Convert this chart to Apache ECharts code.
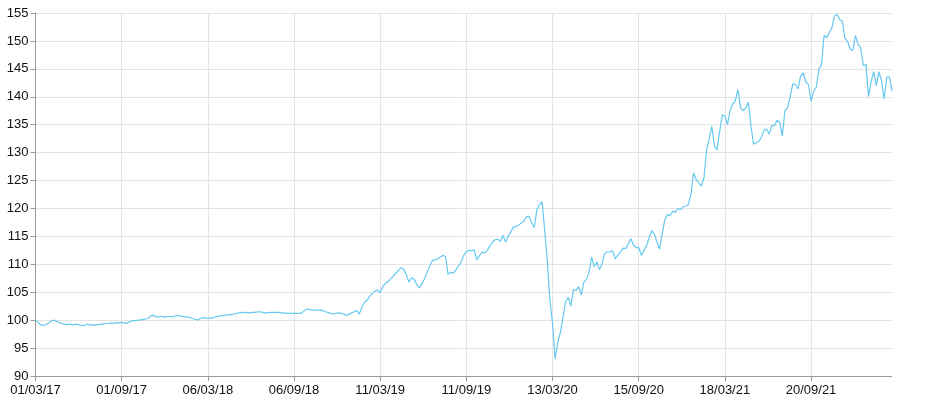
<!DOCTYPE html>
<html>
<head>
<meta charset="utf-8">
<script src="https://cdn.jsdelivr.net/npm/echarts@6/dist/echarts.min.js"></script>
<style>
  html, body { margin: 0; padding: 0; background: #fff; }
  #chart { width: 931px; height: 412px; }
</style>
</head>
<body>
<div id="chart"></div>
<script>
// Sampling: one point every 4 weekdays starting 01/03/2017
const startDate = '2017-03-01';
const weekdaysPerPoint = 4;
const labelEvery = 33; // one tick label every 33 points (132 weekdays)

const indexValues = [
  100.0, 99.6, 99.1, 99.1, 99.2, 99.5, 99.8, 100.0, 99.8, 99.6,
  99.4, 99.3, 99.2, 99.3, 99.2, 99.2, 99.3, 99.1, 99.0, 99.1,
  99.3, 99.1, 99.2, 99.1, 99.2, 99.3, 99.3, 99.4, 99.4, 99.5,
  99.4, 99.6, 99.5, 99.6, 99.5, 99.4, 99.7, 99.9, 99.9, 100.0,
  100.0, 100.1, 100.2, 100.3, 100.7, 100.9, 100.6, 100.6, 100.7, 100.6,
  100.6, 100.7, 100.6, 100.7, 100.8, 100.8, 100.7, 100.6, 100.6, 100.5,
  100.3, 100.2, 100.0, 100.3, 100.4, 100.4, 100.3, 100.4, 100.4, 100.6,
  100.7, 100.8, 100.8, 100.9, 101.0, 101.0, 101.1, 101.2, 101.3, 101.4,
  101.4, 101.3, 101.3, 101.4, 101.4, 101.5, 101.5, 101.4, 101.3, 101.3,
  101.4, 101.4, 101.4, 101.4, 101.3, 101.3, 101.2, 101.2, 101.2, 101.2,
  101.2, 101.2, 101.3, 101.7, 102.0, 101.9, 101.8, 101.8, 101.8, 101.8,
  101.7, 101.5, 101.4, 101.2, 101.1, 101.2, 101.3, 101.2, 101.1, 100.9,
  101.0, 101.3, 101.5, 101.7, 101.1, 102.3, 103.2, 103.6, 104.3, 104.8,
  105.2, 105.4, 104.9, 106.0, 106.6, 106.9, 107.4, 107.9, 108.4, 108.9,
  109.4, 109.1, 108.2, 106.8, 107.6, 107.3, 106.4, 105.8, 106.5, 107.4,
  108.6, 109.7, 110.7, 110.8, 111.0, 111.3, 111.6, 111.4, 108.2, 108.6,
  108.4, 109.0, 109.7, 110.4, 111.6, 112.3, 112.5, 112.4, 112.6, 110.8,
  111.5, 112.2, 112.0, 112.5, 113.3, 114.0, 114.4, 114.5, 114.1, 115.2,
  114.0, 115.0, 115.8, 116.7, 116.8, 117.0, 117.4, 117.7, 118.5, 118.6,
  117.4, 116.6, 119.8, 120.7, 121.2, 116.0, 110.5, 103.5, 99.5, 93.0,
  96.0, 97.8, 100.5, 103.3, 104.1, 102.5, 105.5, 105.3, 106.0, 104.5,
  106.8, 107.3, 108.6, 111.3, 109.6, 110.4, 109.0, 110.2, 111.9, 112.2,
  112.2, 112.4, 111.0, 111.6, 112.2, 112.9, 112.8, 113.6, 114.6, 113.4,
  113.0, 113.0, 111.6, 112.5, 113.3, 114.8, 116.0, 115.4, 114.0, 112.7,
  115.5, 118.0, 118.9, 118.7, 119.5, 119.3, 120.0, 119.8, 120.3, 120.4,
  120.7, 122.5, 126.4, 125.2, 124.6, 124.0, 125.5, 130.5, 132.5, 134.7,
  131.2, 130.5, 133.8, 136.7, 136.6, 135.0, 137.5, 138.7, 139.3, 141.3,
  138.0, 137.5, 138.0, 139.0, 134.7, 131.5, 131.8, 132.0, 132.8, 134.0,
  134.2, 133.3, 134.9, 134.8, 135.8, 135.4, 133.0, 137.5, 138.0, 140.0,
  142.3, 142.2, 141.4, 143.7, 144.3, 142.6, 142.2, 139.2, 141.0, 141.7,
  145.0, 145.8, 151.0, 150.6, 151.5, 152.4, 154.5, 154.7, 153.8, 153.5,
  150.4, 149.9, 148.5, 148.3, 151.0, 149.4, 148.8, 145.6, 145.8, 140.0,
  142.7, 144.5, 142.0, 144.5, 142.8, 139.6, 143.5, 143.5, 141.0
];

const yMin = 90, yMax = 155, yStep = 5;

function pad(n) { return (n < 10 ? '0' : '') + n; }
function buildCategories(start, count, step) {
  const out = [];
  const d = new Date(start + 'T12:00:00Z');
  for (let i = 0; i < count; i++) {
    out.push(pad(d.getUTCDate()) + '/' + pad(d.getUTCMonth() + 1) + '/' + pad(d.getUTCFullYear() % 100));
    let k = 0;
    while (k < step) {
      d.setUTCDate(d.getUTCDate() + 1);
      const wd = d.getUTCDay();
      if (wd !== 0 && wd !== 6) k++;
    }
  }
  return out;
}
const categories = buildCategories(startDate, indexValues.length, weekdaysPerPoint);

const FONT = '"Liberation Sans", Arial, Helvetica, sans-serif';
const chart = echarts.init(document.getElementById('chart'), null, { renderer: 'canvas' });
chart.setOption({
  animation: false,
  backgroundColor: '#ffffff',
  grid: { left: 35.5, right: 39, top: 13, bottom: 36, containLabel: false },
  xAxis: {
    type: 'category',
    data: categories,
    boundaryGap: false,
    axisLine: { show: true, lineStyle: { color: '#9a9a9a', width: 1 } },
    axisTick: { show: true, length: 5, interval: labelEvery - 1, lineStyle: { color: '#9a9a9a' } },
    axisLabel: { interval: labelEvery - 1, color: '#111', fontSize: 13, fontFamily: FONT, margin: 8 },
    splitLine: { show: true, interval: labelEvery - 1, lineStyle: { color: '#e4e4e4', width: 1 } }
  },
  yAxis: {
    type: 'value',
    min: yMin, max: yMax, interval: yStep,
    axisLine: { show: true, lineStyle: { color: '#9a9a9a', width: 1 } },
    axisTick: { show: true, length: 5, lineStyle: { color: '#9a9a9a' } },
    axisLabel: { color: '#111', fontSize: 13, fontFamily: FONT, margin: 7 },
    splitLine: { show: true, lineStyle: { color: '#e4e4e4', width: 1 } }
  },
  series: [{
    type: 'line',
    data: indexValues,
    showSymbol: false,
    symbol: 'none',
    lineStyle: { color: '#66c9f0', width: 1.2 },
    itemStyle: { color: '#66c9f0' }
  }]
});
</script>
</body>
</html>
